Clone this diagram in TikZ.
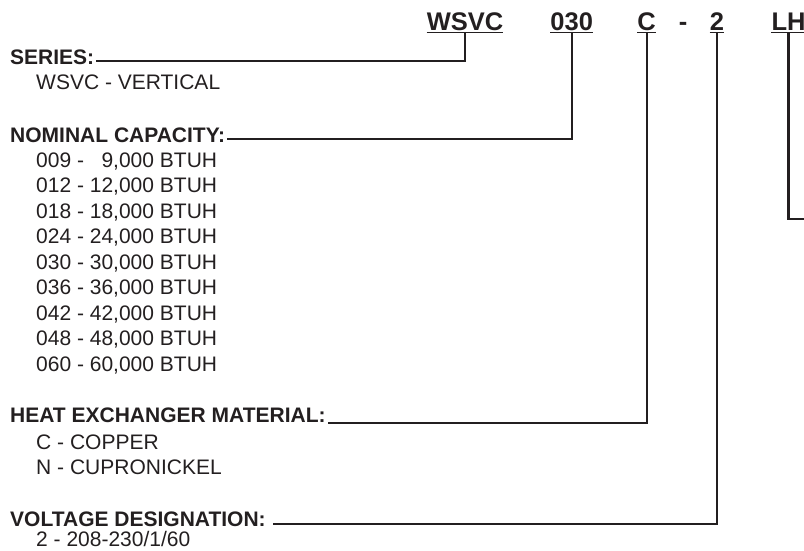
\documentclass[tikz,border=0pt]{standalone}
\usepackage{fontspec}
\setmainfont{Liberation Sans}
\usetikzlibrary{positioning, calc}
\definecolor{ink}{HTML}{231F20}

\begin{document}
\begin{tikzpicture}[x=1pt, y=-1pt, ink,
    code/.style={font=\fontsize{25.5}{30}\selectfont\bfseries, anchor=base, inner sep=0pt},
    title/.style={font=\fontsize{21}{25}\selectfont\bfseries, anchor=base west, inner xsep=2pt, inner ysep=0pt},
    entry/.style={font=\fontsize{21}{25}\selectfont, anchor=base west, inner sep=0pt},
    uline/.style={line width=1.8pt},
    lead/.style={line width=2.2pt}]
    \useasboundingbox (0,0) rectangle (804,550);
    % Model number
    \node[code] (cseries) at (465,30) {WSVC};
    \node[code] (ccap) at (571.7,30) {030};
    \node[code] (cmat) at (646.7,30) {C};
    \node[code] (cdash) at (683,30) {-};
    \node[code] (cvolt) at (717,30) {2};
    \node[code] (chand) at (788.5,30) {LH};
    \foreach \n in {cseries, ccap, cmat, cvolt, chand}
        \draw[uline] ([yshift=-2.5pt]\n.base west) -- ([yshift=-2.5pt]\n.base east);
    % Series
    \node[title] (series) at (8,64) {SERIES:};
    \node[entry] (ser1) at (36,89) {WSVC - VERTICAL};
    % Nominal capacity
    \node[title] (capacity) at (8,142) {NOMINAL CAPACITY:};
    \foreach \c/\btu [count=\i] in {009/\hphantom{1}9, 012/12, 018/18, 024/24, 030/30, 036/36, 042/42, 048/48, 060/60}
        \node[entry] (cap\i) at (36,{141.8+25.5*\i}) {\c\ - \btu,000 BTUH};
    % Heat exchanger material
    \node[title] (material) at (8,422.8) {HEAT EXCHANGER MATERIAL:};
    \node[entry] (mat1) at (36,449.3) {C - COPPER};
    \node[entry] (mat2) at (36,474.3) {N - CUPRONICKEL};
    % Voltage designation
    \node[title] (voltage) at (8,526.7) {VOLTAGE DESIGNATION:};
    \node[entry] (volt1) at (36,546.5) {2 - 208-230/1/60};
    % Leaders
    \coordinate (rim) at (804,219);
    \draw[lead] ([yshift=-2.5pt]cseries.base) |- (series.mid east);
    \draw[lead] ([yshift=-2.5pt]ccap.base) |- (capacity.mid east);
    \draw[lead] ([yshift=-2.5pt]cmat.base) |- (material.base east);
    \draw[lead] ([yshift=-2.5pt]cvolt.base) |- ([xshift=5pt]voltage.mid east);
    \draw[lead] ([yshift=-2.5pt]chand.base) |- (rim);
\end{tikzpicture}
\end{document}
